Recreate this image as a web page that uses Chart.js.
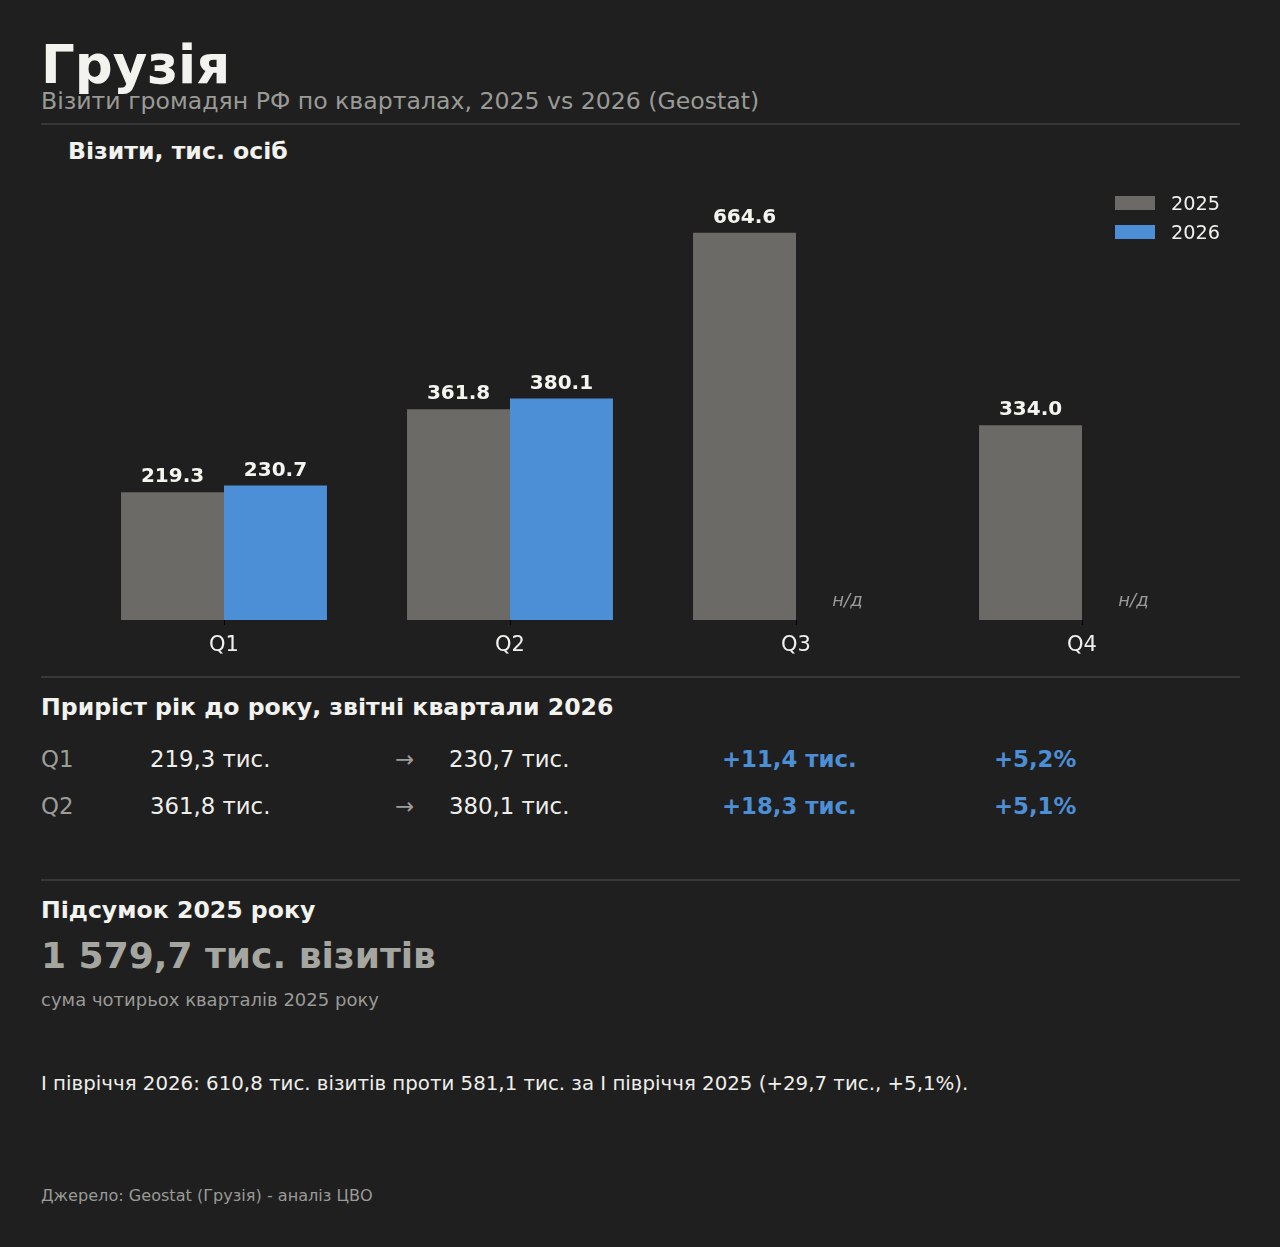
<!DOCTYPE html>
<html lang="uk">
<head>
<meta charset="utf-8">
<title>Грузія</title>
<script src="https://cdn.jsdelivr.net/npm/chart.js@4.4.1/dist/chart.umd.min.js"></script>
<style>
  html, body { margin: 0; padding: 0; background: #1f1f1f; }
  body { width: 1280px; height: 1247px; position: relative; overflow: hidden;
         font-family: "DejaVu Sans", sans-serif; color: #f0f0ec; }
  .t { position: absolute; white-space: nowrap; line-height: 1; }
  .rule { position: absolute; left: 41px; width: 1199px; height: 2px; background: #383838; }
  #chartBox { position: absolute; left: 0; top: 165px; width: 1280px; height: 500px; }
</style>
</head>
<body>

<div class="t" style="left:41px; top:38px; font-size:53px; font-weight:bold; color:#f2f2ee;">Грузія</div>
<div class="t" style="left:41px; top:90px; font-size:23.6px; color:#9a9a96;">Візити громадян РФ по кварталах, 2025 vs 2026 (Geostat)</div>
<div class="rule" style="top:123px;"></div>

<div class="t" style="left:68px; top:140px; font-size:23.6px; font-weight:bold; color:#f2f2ee;">Візити, тис. осіб</div>
<div id="chartBox"><canvas id="myChart"></canvas></div>

<div class="rule" style="top:676px;"></div>
<div class="t" style="left:41px; top:696px; font-size:23.6px; font-weight:bold; color:#f2f2ee;">Приріст рік до року, звітні квартали 2026</div>
<div id="yoy"></div>

<div class="rule" style="top:879px;"></div>
<div class="t" style="left:41px; top:899px; font-size:23.6px; font-weight:bold; color:#f2f2ee;">Підсумок 2025 року</div>
<div class="t" id="total" style="left:41px; top:938px; font-size:36px; font-weight:bold; color:#a6a6a0;"></div>
<div class="t" style="left:41px; top:991px; font-size:18px; color:#9a9a96;">сума чотирьох кварталів 2025 року</div>

<div class="t" style="left:41px; top:1074px; font-size:19.8px; color:#eeeeea;">І півріччя 2026: 610,8 тис. візитів проти 581,1 тис. за І півріччя 2025 (+29,7 тис., +5,1%).</div>

<div class="t" style="left:41px; top:1188px; font-size:16.1px; color:#9a9a96;">Джерело: Geostat (Грузія) - аналіз ЦВО</div>

<script>
// quarters and visits, thousand people
const quarters = ['Q1', 'Q2', 'Q3', 'Q4'];
const visits2025 = [219.3, 361.8, 664.6, 334.0];
const visits2026 = [230.7, 380.1, null, null];
const seriesNames = ['2025', '2026'];

const grey = '#6b6a66';
const blue = '#4d8fd6';

function fmt(v) {
  return v.toFixed(1).replace('.', ',');
}

// year over year rows under the chart
const yoyBox = document.getElementById('yoy');
const rowTops = [747.5, 795];
let row = 0;
quarters.forEach((q, i) => {
  if (visits2026[i] == null) return;
  const diff = visits2026[i] - visits2025[i];
  const pct = diff / visits2025[i] * 100;
  const cells = [
    [41, q, '#9d9d98', 'normal'],
    [150, fmt(visits2025[i]) + ' тис.', '#eeeeea', 'normal'],
    [395, '→', '#9d9d98', 'normal'],
    [449, fmt(visits2026[i]) + ' тис.', '#eeeeea', 'normal'],
    [722, '+' + fmt(diff) + ' тис.', blue, 'bold'],
    [994, '+' + fmt(pct) + '%', blue, 'bold']
  ];
  cells.forEach(c => {
    const d = document.createElement('div');
    d.className = 't';
    d.style.cssText = `left:${c[0]}px; top:${rowTops[row]}px; font-size:22.8px; color:${c[2]}; font-weight:${c[3]};`;
    d.textContent = c[1];
    yoyBox.appendChild(d);
  });
  row++;
});

const total2025 = visits2025.reduce((a, b) => a + b, 0);
document.getElementById('total').textContent =
  fmt(total2025).replace(/^(\d)(\d{3})/, '$1 $2') + ' тис. візитів';

// value labels on top of bars, "н/д" where there is no data
const barLabels = {
  id: 'barLabels',
  afterDatasetsDraw(chart) {
    const ctx = chart.ctx;
    ctx.save();
    ctx.textAlign = 'center';
    ctx.textBaseline = 'alphabetic';
    chart.data.datasets.forEach((ds, di) => {
      const meta = chart.getDatasetMeta(di);
      meta.data.forEach((bar, i) => {
        const v = ds.data[i];
        if (v == null) {
          const ref = chart.getDatasetMeta(0).data[i];
          ctx.font = 'italic 18px "DejaVu Sans"';
          ctx.fillStyle = '#9a9a96';
          ctx.fillText('н/д', ref.x + ref.width, chart.chartArea.bottom - 14);
          return;
        }
        ctx.font = 'bold 20px "DejaVu Sans"';
        ctx.fillStyle = '#f5f5f0';
        ctx.fillText(v.toFixed(1), bar.x, bar.y - 10);
      });
    });
    ctx.restore();
  }
};

// legend in the upper right corner of the plot, one entry per line
const cornerLegend = {
  id: 'cornerLegend',
  afterDraw(chart) {
    const ctx = chart.ctx;
    const area = chart.chartArea;
    ctx.save();
    ctx.font = '19.3px "DejaVu Sans"';
    ctx.textBaseline = 'middle';
    ctx.textAlign = 'left';
    chart.data.datasets.forEach((ds, i) => {
      const x = area.right - 110;
      const y = area.top + 2 + i * 29;
      ctx.fillStyle = ds.backgroundColor;
      ctx.fillRect(x, y, 40, 14);
      ctx.fillStyle = '#f0f0ec';
      ctx.fillText(ds.label, x + 56, y + 9);
    });
    ctx.restore();
  }
};

const data = {
  labels: quarters,
  datasets: [{
    label: seriesNames[0],
    data: visits2025,
    backgroundColor: grey
  }, {
    label: seriesNames[1],
    data: visits2026,
    backgroundColor: blue
  }]
};

const config = {
  type: 'bar',
  data: data,
  options: {
    responsive: true,
    maintainAspectRatio: false,
    animation: false,
    categoryPercentage: 0.72,
    barPercentage: 1.0,
    layout: {
      padding: { left: 81, right: 55, top: 29, bottom: 0 }
    },
    plugins: {
      legend: { display: false },
      tooltip: { enabled: false }
    },
    scales: {
      x: {
        grid: {
          display: true,
          offset: false,
          drawOnChartArea: false,
          drawTicks: true,
          tickLength: 5,
          color: '#000'
        },
        border: { display: false },
        ticks: {
          color: '#f0f0ec',
          font: { family: 'DejaVu Sans', size: 21 },
          padding: 8
        },
        afterFit(scale) {
          scale.height = 45;
        }
      },
      y: {
        display: false,
        min: 0,
        max: Math.max(...visits2025) * 1.1
      }
    }
  },
  plugins: [barLabels, cornerLegend]
};

document.addEventListener('DOMContentLoaded', () => {
  const myChart = new Chart(
    document.getElementById('myChart'),
    config
  );
});
</script>
</body>
</html>
